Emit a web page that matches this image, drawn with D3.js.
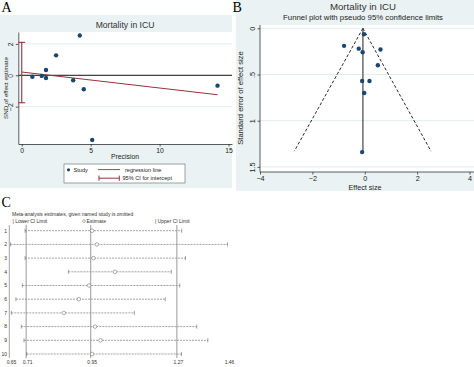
<!DOCTYPE html>
<html>
<head>
<meta charset="utf-8">
<script src="https://cdn.jsdelivr.net/npm/d3@7"></script>
<style>
  body { margin: 0; background: #fff; }
  svg { display: block; font-family: "Liberation Sans", Arial, sans-serif; }
  .panel-label { font-family: "Liberation Serif", "Times New Roman", serif; font-size: 14px; }
</style>
</head>
<body>
<svg id="fig" width="474" height="367"></svg>
<script>
// ---- panel A : galbraith plot ----
var galPrecision = [0.77, 1.45, 1.76, 1.76, 2.49, 3.73, 4.21, 4.50, 5.11, 14.2];
var galSnd       = [-0.09, -0.04, 0.34, -0.17, 1.27, -0.32, 2.54, -0.89, -4.12, -0.66];
var regX = [0, 14.2];
var regY = [0.21, -1.24];
var interceptCI = [-1.75, 2.10];
var galXTicks = [0, 5, 10, 15];
var galYTicks = [-2, 0, 2];

// ---- panel B : funnel plot ----
var funEffect = [-0.03, -0.79, -0.23, -0.08, 0.60, 0.50, -0.10, 0.18, -0.02, -0.10];
var funSe     = [0.065, 0.19, 0.22, 0.26, 0.23, 0.40, 0.57, 0.57, 0.70, 1.34];
var funCenter = -0.07;
var funLimitSe = [0, 1.33];
var funLower = [-0.07, -2.69];
var funUpper = [-0.07, 2.53];
var funLineSe = [0, 1.35];
var funXTicks = [-4, -2, 0, 2, 4];
var funYTicks = [0, 0.5, 1, 1.5];
var funYLabels = ["0", ".5", "1", "1.5"];

// ---- panel C : influence analysis ----
var omitStudy = [1, 2, 3, 4, 5, 6, 7, 8, 9, 10];
var omitLower = [0.706, 0.652, 0.706, 0.867, 0.696, 0.672, 0.655, 0.692, 0.702, 0.712];
var omitEst   = [0.955, 0.973, 0.960, 1.040, 0.944, 0.906, 0.850, 0.966, 0.986, 0.955];
var omitUpper = [1.288, 1.458, 1.302, 1.249, 1.281, 1.227, 1.112, 1.344, 1.385, 1.287];
var overallLines = [0.71, 0.95, 1.27];
var omitTicks = [0.65, 0.71, 0.95, 1.27, 1.46];

var navy = "#1a476f", maroon = "#90353b", bg = "#eaf2f3", grid = "#dde6e9";
var svg = d3.select("#fig");

function rotLabels(g, off) {
  g.selectAll(".tick text")
    .attr("transform", "rotate(-90)")
    .attr("x", 0)
    .attr("y", off)
    .attr("dy", 0)
    .style("text-anchor", "middle");
}

// ================= A =================
var gA = svg.append("g");
gA.append("rect").attr("x", 0).attr("y", 15).attr("width", 232).attr("height", 173).attr("fill", bg);
gA.append("text").attr("class", "panel-label").attr("x", 1.5).attr("y", 12).text("A");
gA.append("text").attr("x", 125).attr("y", 28).attr("text-anchor", "middle")
  .attr("font-size", 8.6).attr("fill", "#333").text("Mortality in ICU");

var ax = d3.scaleLinear().domain([-0.25, 15.25]).range([18.3, 232]);
var ay = d3.scaleLinear().domain([-4.38, 2.76]).range([144, 32]);

gA.append("rect").attr("x", ax.range()[0]).attr("y", 32)
  .attr("width", ax.range()[1] - ax.range()[0]).attr("height", 112).attr("fill", "#fff");

gA.selectAll(".gridA")
  .data([-2, 2])
  .enter()
    .append("line")
    .attr("x1", ax.range()[0]).attr("x2", ax.range()[1])
    .attr("y1", function(d) { return ay(d); })
    .attr("y2", function(d) { return ay(d); })
    .attr("stroke", grid).attr("stroke-width", 0.8);

gA.append("line")
  .attr("x1", ax.range()[0]).attr("x2", ax.range()[1])
  .attr("y1", ay(0)).attr("y2", ay(0))
  .attr("stroke", "#111").attr("stroke-width", 1);

var axA = gA.append("g")
  .attr("transform", "translate(0,144)")
  .call(d3.axisBottom(ax).tickValues(galXTicks).tickSize(2.5).tickSizeOuter(0).tickPadding(1.5));
axA.selectAll("text").attr("font-size", 6.8).attr("fill", "#222");

var ayA = gA.append("g")
  .attr("transform", "translate(" + ax.range()[0] + ",0)")
  .call(d3.axisLeft(ay).tickValues(galYTicks).tickSize(2.5).tickSizeOuter(0)
    .tickFormat(function(d) { return d < 0 ? "\u2212" + (-d) : d; }));
rotLabels(ayA, -5);
ayA.selectAll("text").attr("font-size", 6.8).attr("fill", "#222");
gA.selectAll(".domain, .tick line").attr("stroke", "#333").attr("stroke-width", 0.8);

gA.append("text").attr("transform", "translate(5.5,88) rotate(-90)")
  .attr("text-anchor", "middle").attr("dy", "0.35em").attr("font-size", 6.2).attr("fill", "#222")
  .text("SND of effect estimate");
gA.append("text").attr("x", 125).attr("y", 158.5).attr("text-anchor", "middle")
  .attr("font-size", 6.8).attr("fill", "#222").text("Precision");

// regression line
var regLine = d3.line()
  .x(function(d, i) { return ax(regX[i]); })
  .y(function(d) { return ay(d); });
gA.append("path").attr("d", regLine(regY)).attr("fill", "none")
  .attr("stroke", maroon).attr("stroke-width", 1);

// CI for intercept
var ciA = gA.append("g").attr("stroke", maroon).attr("stroke-width", 1.1);
ciA.append("line").attr("x1", ax(0)).attr("x2", ax(0))
  .attr("y1", ay(interceptCI[0])).attr("y2", ay(interceptCI[1]));
interceptCI.forEach(function(v) {
  ciA.append("line").attr("x1", ax(0) - 3.4).attr("x2", ax(0) + 3.4)
    .attr("y1", ay(v)).attr("y2", ay(v));
});

gA.selectAll(".ptA")
  .data(galSnd)
  .enter()
    .append("circle")
    .attr("cx", function(d, i) { return ax(galPrecision[i]); })
    .attr("cy", function(d) { return ay(d); })
    .attr("r", 2.2)
    .attr("fill", navy);

// legend
var lg = gA.append("g").attr("font-size", 5.6).attr("fill", "#222");
lg.append("rect").attr("x", 64).attr("y", 164).attr("width", 121).attr("height", 19)
  .attr("fill", "#fff").attr("stroke", "#666").attr("stroke-width", 0.6);
lg.append("circle").attr("cx", 68.5).attr("cy", 169.8).attr("r", 1.6).attr("fill", navy);
lg.append("text").attr("x", 73.5).attr("y", 171.8).text("Study");
lg.append("line").attr("x1", 98).attr("x2", 120).attr("y1", 169.6).attr("y2", 169.6)
  .attr("stroke", maroon).attr("stroke-width", 0.9);
lg.append("text").attr("x", 125).attr("y", 171.8).text("regression line");
lg.append("line").attr("x1", 99).attr("x2", 119.3).attr("y1", 178.2).attr("y2", 178.2)
  .attr("stroke", maroon).attr("stroke-width", 1);
[99, 119.3].forEach(function(x) {
  lg.append("line").attr("x1", x).attr("x2", x).attr("y1", 175.6).attr("y2", 180.8)
    .attr("stroke", maroon).attr("stroke-width", 1);
});
lg.append("text").attr("x", 122.5).attr("y", 180.2).text("95% CI for intercept");

// ================= B =================
var gB = svg.append("g");
gB.append("rect").attr("x", 236).attr("y", 0).attr("width", 238).attr("height", 191).attr("fill", bg);
gB.append("text").attr("class", "panel-label").attr("x", 232.5).attr("y", 11.5).text("B");
gB.append("text").attr("x", 363).attr("y", 9.8).attr("text-anchor", "middle")
  .attr("font-size", 9.7).attr("fill", "#333").text("Mortality in ICU");
gB.append("text").attr("x", 363).attr("y", 20.3).attr("text-anchor", "middle")
  .attr("font-size", 7.8).attr("fill", "#222").text("Funnel plot with pseudo 95% confidence limits");

var bx = d3.scaleLinear().domain([-4, 4]).range([260, 469.5]);
var by = d3.scaleLinear().domain([0, 1.5]).range([28.3, 166.9]);

gB.append("rect").attr("x", 260).attr("y", 25).attr("width", 214).attr("height", 147).attr("fill", "#fff");
gB.selectAll(".gridB")
  .data(funYTicks)
  .enter()
    .append("line")
    .attr("x1", 260).attr("x2", 474)
    .attr("y1", function(d) { return by(d); })
    .attr("y2", function(d) { return by(d); })
    .attr("stroke", grid).attr("stroke-width", 0.8);

var bxAxis = gB.append("g")
  .attr("transform", "translate(0,172)")
  .call(d3.axisBottom(bx).tickValues(funXTicks).tickSize(2.5).tickSizeOuter(0).tickPadding(1.5)
    .tickFormat(function(d) { return d < 0 ? "\u2212" + (-d) : d; }));
bxAxis.select(".domain").attr("d", "M260,0H474");
bxAxis.selectAll("text").attr("font-size", 7.2).attr("fill", "#222");

var byAxis = gB.append("g")
  .attr("transform", "translate(260,0)")
  .call(d3.axisLeft(by).tickValues(funYTicks).tickSize(2.5).tickSizeOuter(0)
    .tickFormat(function(d, i) { return funYLabels[i]; }));
byAxis.select(".domain").attr("d", "M0,25V172");
rotLabels(byAxis, -5.5);
byAxis.selectAll("text").attr("font-size", 7.2).attr("fill", "#222");
gB.selectAll(".domain, .tick line").attr("stroke", "#333").attr("stroke-width", 0.8);

gB.append("text").attr("transform", "translate(240,98) rotate(-90)")
  .attr("text-anchor", "middle").attr("dy", "0.35em").attr("font-size", 7.6).attr("fill", "#222")
  .text("Standard error of effect size");
gB.append("text").attr("x", 365).attr("y", 190).attr("text-anchor", "middle")
  .attr("font-size", 7.2).attr("fill", "#222").text("Effect size");

var limLine = d3.line()
  .x(function(d) { return bx(d); })
  .y(function(d, i) { return by(funLimitSe[i]); });
[funLower, funUpper].forEach(function(arr) {
  gB.append("path").attr("d", limLine(arr)).attr("fill", "none")
    .attr("stroke", "#111").attr("stroke-width", 0.9).attr("stroke-dasharray", "3,2");
});
gB.append("line")
  .attr("x1", bx(funCenter)).attr("x2", bx(funCenter))
  .attr("y1", by(funLineSe[0])).attr("y2", by(funLineSe[1]))
  .attr("stroke", "#444").attr("stroke-width", 1.2);

gB.selectAll(".ptB")
  .data(funEffect)
  .enter()
    .append("circle")
    .attr("cx", function(d) { return bx(d); })
    .attr("cy", function(d, i) { return by(funSe[i]); })
    .attr("r", 2.2)
    .attr("fill", navy);

// ================= C =================
var gC = svg.append("g");
gC.append("text").attr("class", "panel-label").attr("x", 1.5).attr("y", 206.5).text("C");
gC.append("text").attr("x", 12).attr("y", 215.8).attr("font-size", 5).attr("fill", "#333")
  .text("Meta-analysis estimates, given named study is omitted");
var lgC = gC.append("g").attr("font-size", 5).attr("fill", "#333");
lgC.append("text").attr("x", 12.5).attr("y", 222.8).text("| Lower CI Limit");
lgC.append("circle").attr("cx", 84).attr("cy", 221.1).attr("r", 1.4)
  .attr("fill", "none").attr("stroke", "#666").attr("stroke-width", 0.5);
lgC.append("text").attr("x", 86.5).attr("y", 222.8).text("Estimate");
lgC.append("text").attr("x", 155).attr("y", 222.8).text("| Upper CI Limit");

var cx = d3.scaleLinear().domain([0.65, 1.46]).range([10, 228]);
var cy = d3.scaleLinear().domain([1, 10]).range([230.7, 354]);

gC.append("line").attr("x1", 9.3).attr("x2", 9.3).attr("y1", 225).attr("y2", 358)
  .attr("stroke", "#999").attr("stroke-width", 0.9);
gC.selectAll(".vline")
  .data(overallLines)
  .enter()
    .append("line")
    .attr("x1", function(d) { return cx(d); })
    .attr("x2", function(d) { return cx(d); })
    .attr("y1", 225).attr("y2", 358)
    .attr("stroke", "#999").attr("stroke-width", 1);

var rows = gC.selectAll(".row")
  .data(omitStudy)
  .enter()
    .append("g")
    .attr("transform", function(d) { return "translate(0," + cy(d) + ")"; });
rows.append("text").attr("x", 7).attr("y", 1.8).attr("text-anchor", "end")
  .attr("font-size", 5).attr("fill", "#333").text(function(d) { return d; });
rows.append("line")
  .attr("x1", function(d, i) { return cx(omitLower[i]); })
  .attr("x2", function(d, i) { return cx(omitUpper[i]); })
  .attr("stroke", "#8a8a8a").attr("stroke-width", 0.8).attr("stroke-dasharray", "2,1");
rows.append("line")
  .attr("x1", function(d, i) { return cx(omitLower[i]); })
  .attr("x2", function(d, i) { return cx(omitLower[i]); })
  .attr("y1", -2).attr("y2", 2).attr("stroke", "#777").attr("stroke-width", 0.7);
rows.append("line")
  .attr("x1", function(d, i) { return cx(omitUpper[i]); })
  .attr("x2", function(d, i) { return cx(omitUpper[i]); })
  .attr("y1", -2).attr("y2", 2).attr("stroke", "#777").attr("stroke-width", 0.7);
rows.append("circle")
  .attr("cx", function(d, i) { return cx(omitEst[i]); })
  .attr("r", 1.8)
  .attr("fill", "#fff").attr("stroke", "#777").attr("stroke-width", 0.6);

gC.selectAll(".tickC")
  .data(omitTicks)
  .enter()
    .append("text")
    .attr("x", function(d) { return cx(d) + 1.5; })
    .attr("y", 364)
    .attr("text-anchor", "middle")
    .attr("font-size", 5).attr("fill", "#333")
    .text(function(d) { return d.toFixed(2); });
</script>
</body>
</html>
